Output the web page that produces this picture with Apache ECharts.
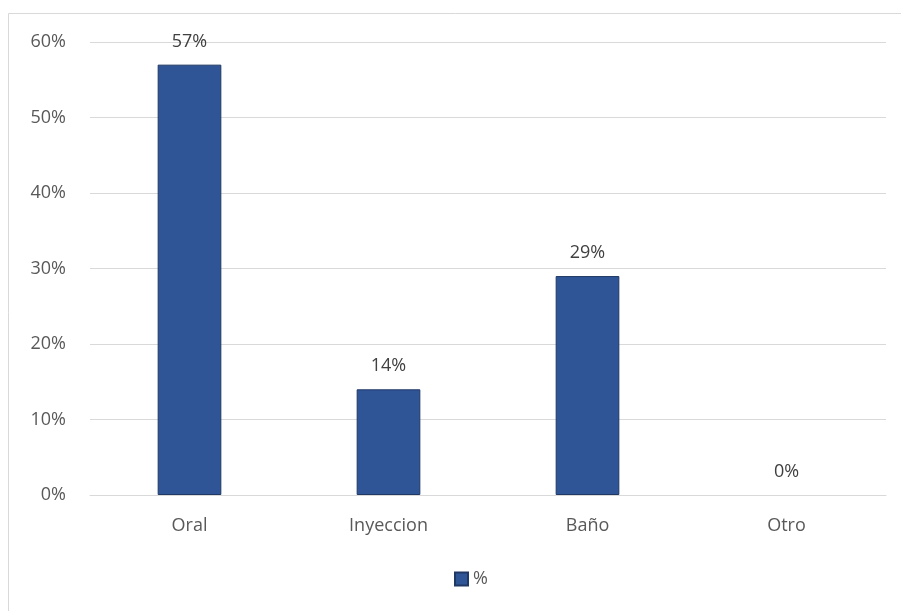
<!DOCTYPE html>
<html>
<head>
<meta charset="utf-8">
<script src="https://cdn.jsdelivr.net/npm/echarts@6/dist/echarts.min.js"></script>
<style>
  html, body { margin: 0; padding: 0; background: #ffffff; }
  #chart { width: 901px; height: 611px; }
</style>
</head>
<body>
<div id="chart"></div>
<script>
// Vía de administración (porcentaje de respuestas)
const categories = ['Oral', 'Inyeccion', 'Baño', 'Otro'];
const percentValues = [57, 14, 29, 0];
const seriesName = '%';
const yTicks = { min: 0, max: 60, interval: 10 };

const FONT = '"Open Sans", "Noto Sans", sans-serif';
const chart = echarts.init(document.getElementById('chart'), null, { renderer: 'canvas' });

// zero-height bars get no outline so nothing shows on the baseline
const barData = percentValues.map(v => ({
  value: v,
  itemStyle: v === 0 ? { borderWidth: 0 } : undefined
}));

chart.setOption({
  animation: false,
  backgroundColor: '#ffffff',
  graphic: [{
    type: 'rect',
    shape: { x: 8.5, y: 13.5, width: 1000, height: 800 },
    style: { fill: 'none', stroke: '#d9d9d9', lineWidth: 1 },
    silent: true
  }],
  grid: { left: 90, right: 15, top: 42, bottom: 116, containLabel: false },
  legend: {
    data: [seriesName],
    bottom: 18,
    left: 449,
    icon: 'rect',
    itemWidth: 13,
    itemHeight: 13,
    itemGap: 6,
    textStyle: { color: '#595959', fontSize: 18, fontFamily: FONT }
  },
  xAxis: {
    type: 'category',
    data: categories,
    axisLine: { show: true, lineStyle: { color: '#d9d9d9', width: 1 } },
    axisTick: { show: false },
    axisLabel: { color: '#595959', fontSize: 18, fontFamily: FONT, margin: 22 }
  },
  yAxis: {
    type: 'value',
    min: yTicks.min,
    max: yTicks.max,
    interval: yTicks.interval,
    axisLine: { show: false },
    axisTick: { show: false },
    axisLabel: { color: '#595959', fontSize: 18, fontFamily: FONT, margin: 24, formatter: '{value}%' },
    splitLine: { lineStyle: { color: '#d9d9d9', width: 1 } }
  },
  series: [{
    name: seriesName,
    type: 'bar',
    data: barData,
    barWidth: '32%',
    itemStyle: { color: '#2f5597', borderColor: '#1f3864', borderWidth: 1 },
    label: {
      show: true,
      position: 'top',
      distance: 14,
      color: '#404040',
      fontSize: 18,
      fontFamily: FONT,
      formatter: p => p.value + '%'
    }
  }]
});
</script>
</body>
</html>
